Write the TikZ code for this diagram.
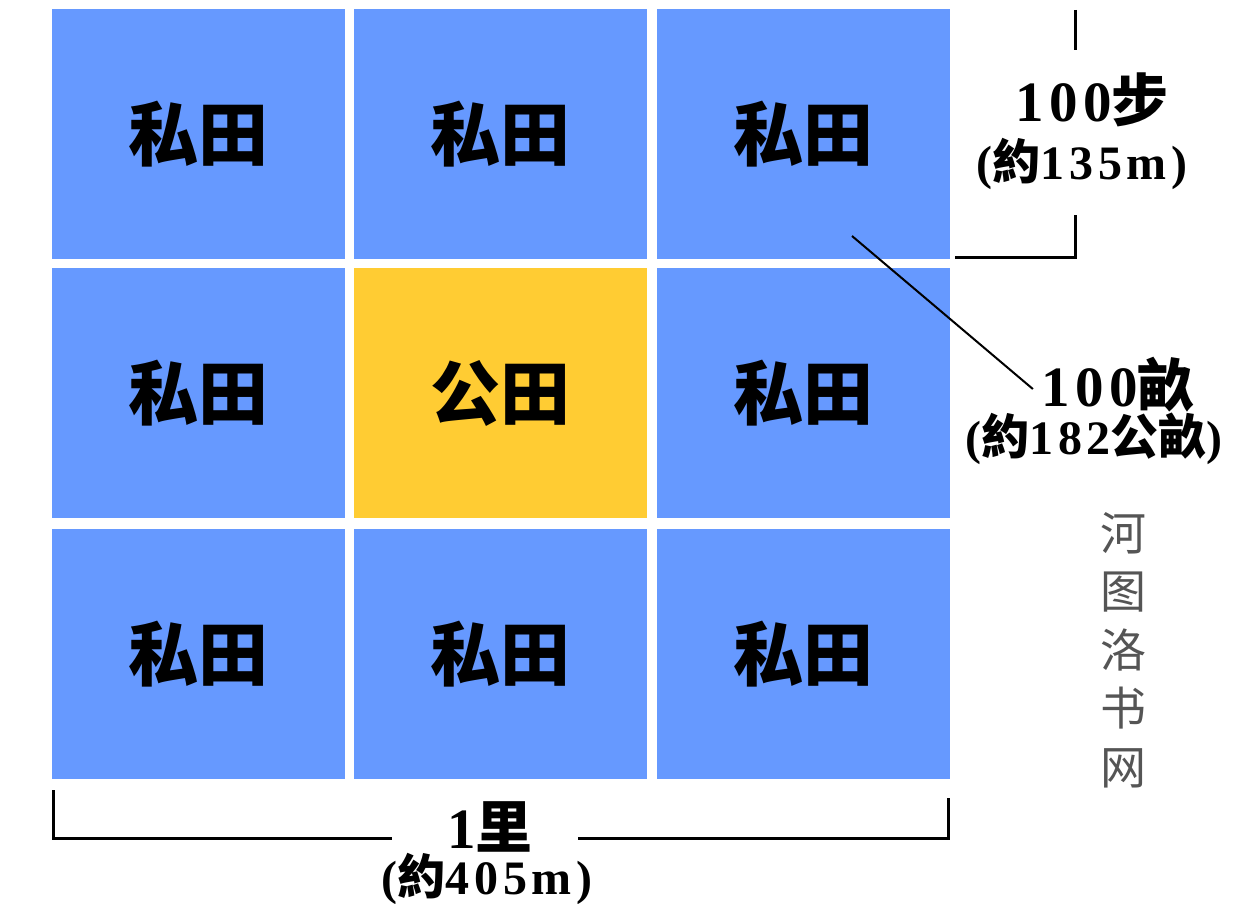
\documentclass[tikz,border=0pt]{standalone}
\usepackage{fontspec}
\setmainfont{Liberation Serif}
\newfontfamily\cjk{Noto Sans CJK SC}
\newfontfamily\labelfont[LetterSpace=10]{Liberation Serif}
\usetikzlibrary{positioning,calc}
\definecolor{plotblue}{HTML}{6699FF}
\definecolor{plotgold}{HTML}{FFCC33}
\definecolor{markgray}{HTML}{555555}

\begin{document}
\begin{tikzpicture}[x=1pt, y=-1pt,
  field/.style={minimum width=293pt, minimum height=250pt, inner sep=0pt,
    font=\cjk\bfseries\fontsize{70}{70}\selectfont},
  dimline/.style={line width=3pt},
  bigtext/.style={inner sep=0pt, font=\labelfont\bfseries\fontsize{57}{57}\selectfont},
  smalltext/.style={inner sep=0pt, font=\labelfont\bfseries\fontsize{48}{48}\selectfont}]
\useasboundingbox (0,0) rectangle (1236,904);

% nine fields, the public one in the middle
\foreach \r/\y in {1/134,2/393,3/654} {
  \foreach \c/\x in {1/198.5,2/500.5,3/803.5} {
    \ifnum\r\c=22
      \node[field, fill=plotgold] (f\r\c) at (\x,\y) {公田};
    \else
      \node[field, fill=plotblue] (f\r\c) at (\x,\y) {私田};
    \fi
  }
}

% side of one field
\node[bigtext] (step) at (1092,100) {100{\cjk 步}};
\node[smalltext] (stepm) at (1082,164) {({\cjk 約}135m)};
\coordinate (stepA) at (1075,10);
\coordinate (stepB) at (1075,50);
\coordinate (stepC) at (1075,215);
\coordinate (stepD) at (1075,257);
\coordinate (stepE) at (955,257);
\draw[dimline] (stepA) -- (stepB);
\draw[dimline] (stepC) -- (stepD) -- (stepE);

% area of one field
\node[bigtext] (mu) at (1118,385) {100{\cjk 畝}};
\node[smalltext] (mum) at (1094,439) {({\cjk 約}182{\cjk 公畝})};
\coordinate (muA) at (852,236);
\draw[line width=2pt] (muA) -- ([xshift=-8pt,yshift=-4pt]mu.west);

% whole square
\node[bigtext] (li) at (490,827) {1{\cjk 里}};
\node[smalltext] (lim) at (487,879) {({\cjk 約}405m)};
\coordinate (liA) at (53,790);
\coordinate (liB) at (53,838);
\coordinate (liC) at (392,838);
\coordinate (liD) at (578,838);
\coordinate (liE) at (948,838);
\coordinate (liF) at (948,798);
\draw[dimline] (liA) -- (liB) -- (liC);
\draw[dimline] (liD) -- (liE) -- (liF);

% watermark
\node[inner sep=0pt, align=center, text=markgray,
  font=\cjk\fontsize{46}{58.5}\selectfont] (mark) at (1123,650)
  {河\\图\\洛\\书\\网};
\end{tikzpicture}
\end{document}
